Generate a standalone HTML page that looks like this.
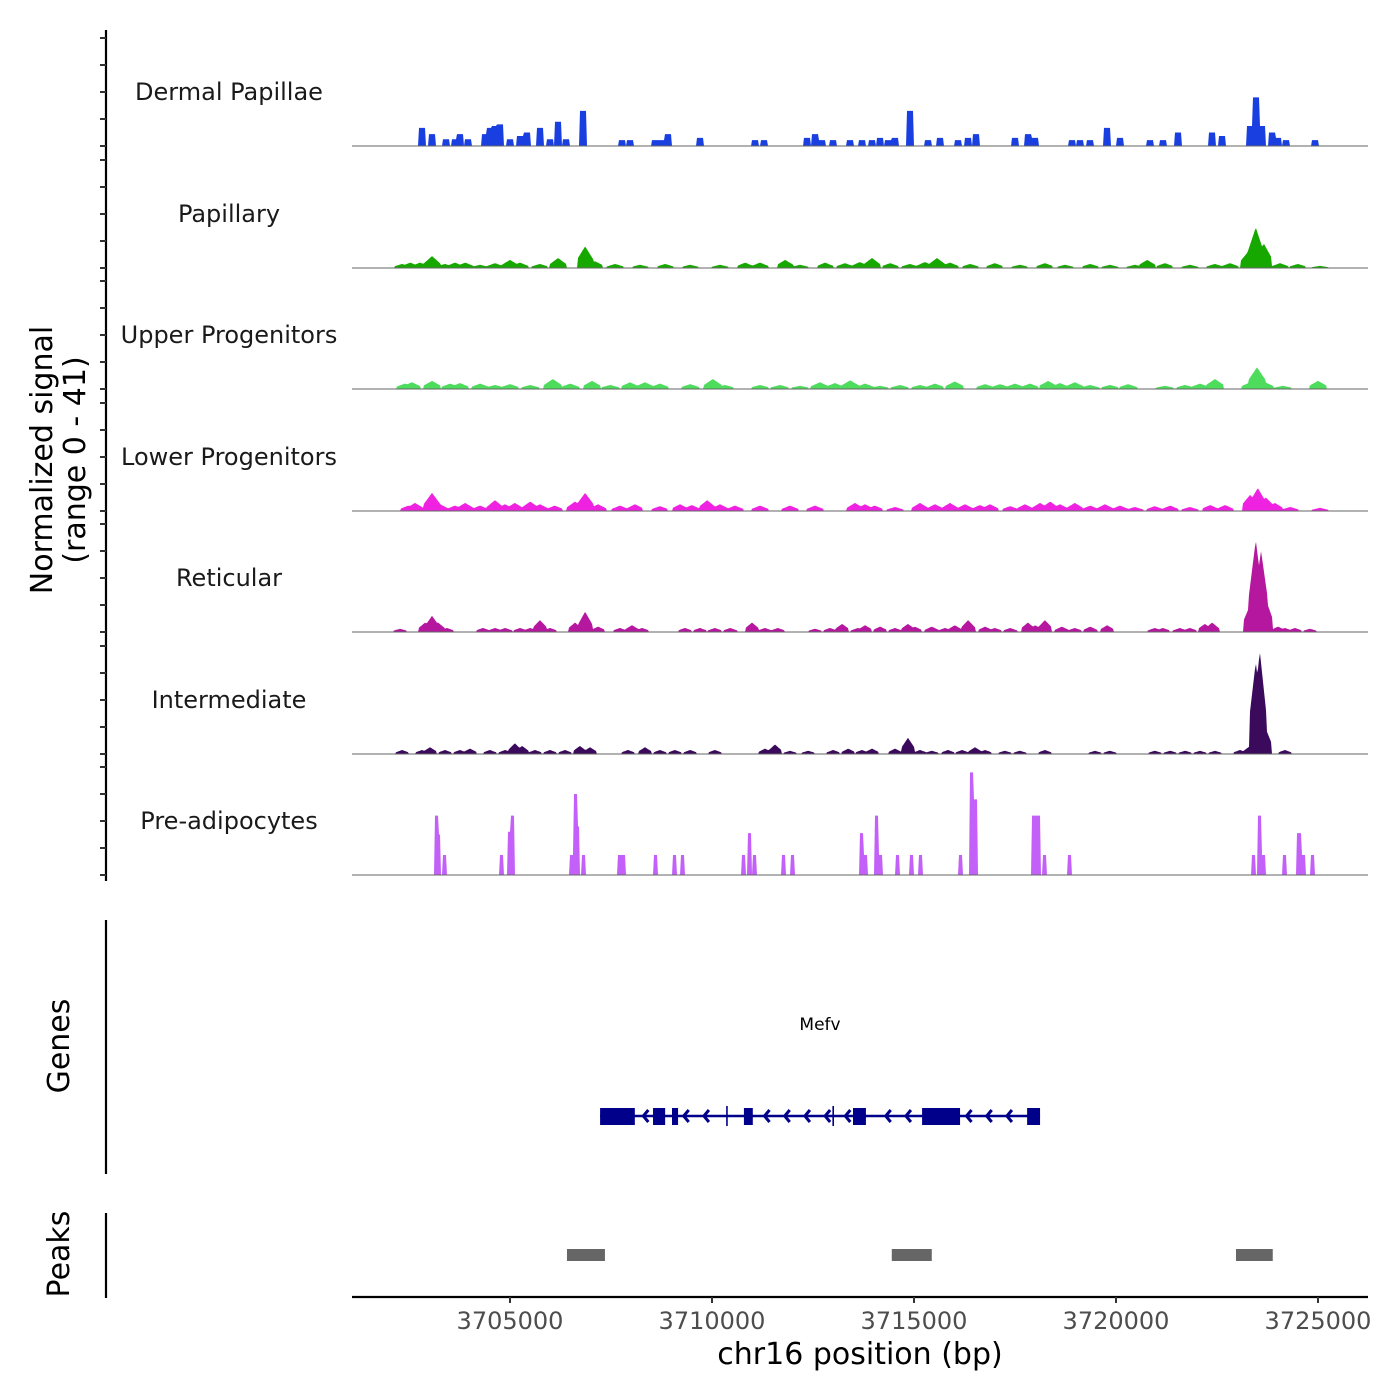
<!DOCTYPE html>
<html><head><meta charset="utf-8">
<style>
html,body{margin:0;padding:0;background:#fff;}
svg{display:block;font-family:"DejaVu Sans","Liberation Sans",sans-serif;}
</style></head>
<body>
<svg id="chart" width="1400" height="1400" viewBox="0 0 1400 1400" xmlns="http://www.w3.org/2000/svg">
<rect width="1400" height="1400" fill="#fff"/>
<g id="tracks"></g>
<g id="yaxis"></g>
<text transform="translate(52,460) rotate(-90)" text-anchor="middle" font-size="30" fill="#000">Normalized signal</text>
<text transform="translate(85,460) rotate(-90)" text-anchor="middle" font-size="30" fill="#000">(range 0 - 41)</text>
<g id="genes"></g>
<line x1="106" y1="920" x2="106" y2="1174" stroke="#000" stroke-width="2.2"/>
<text transform="translate(69,1046) rotate(-90)" text-anchor="middle" font-size="30" fill="#000">Genes</text>
<g id="peaks"></g>
<line x1="106" y1="1213" x2="106" y2="1298" stroke="#000" stroke-width="2.2"/>
<text transform="translate(69,1254) rotate(-90)" text-anchor="middle" font-size="30" fill="#000">Peaks</text>
<g id="xaxis"></g>
<text x="860" y="1364" text-anchor="middle" font-size="30" fill="#000">chr16 position (bp)</text>
</svg>
<script>
// ---- data (positions in kb on chr16, signal values 0-41) ----
const trackNames = ["Dermal Papillae","Papillary","Upper Progenitors","Lower Progenitors","Reticular","Intermediate","Pre-adipocytes"];
const trackColors = ["#1a3fe0","#17a800","#4ddc5c","#ee22e0","#b5179f","#3b0a5c","#c260f7"];
const xTicks = [3705000,3710000,3715000,3720000,3725000];

const dpPos = [3702.82,3703.07,3703.42,3703.64,3703.76,3703.96,3704.38,3704.50,3704.63,3704.75,3705.00,3705.25,3705.42,3705.74,3705.99,3706.19,3706.39,3706.81,3707.77,3707.97,3708.59,3708.74,3708.91,3709.70,3711.06,3711.29,3712.35,3712.55,3712.72,3713.00,3713.42,3713.71,3713.96,3714.16,3714.36,3714.53,3714.90,3715.35,3715.64,3716.09,3716.34,3716.53,3717.50,3717.82,3718.00,3718.91,3719.11,3719.36,3719.78,3720.10,3720.84,3721.16,3721.53,3722.38,3722.62,3723.32,3723.46,3723.61,3723.86,3724.01,3724.21,3724.92];
const dpVal = [6.7,4.4,2.5,2.5,4.4,2.5,4.4,6.7,7.4,8,2.5,3.7,5,6.7,2.5,9,2.5,13,2.2,2.2,2.2,2.2,4.4,3,2.2,2.2,3,4.4,2.2,2.2,2.2,2.2,2.2,3,2.2,3,13,2.2,3,2.2,3,4.4,3,4.4,3,2.2,2.2,2.2,6.7,3,2.2,2.2,5,5,3.7,7.4,18,7.4,5,3,2.2,2.2];

const papPos = [3702.33,3702.53,3702.77,3703.07,3703.39,3703.64,3703.89,3704.26,3704.63,3705.00,3705.25,3705.74,3706.19,3706.86,3707.10,3707.60,3708.22,3708.84,3709.46,3710.20,3710.82,3711.19,3711.81,3712.18,3712.80,3713.29,3713.66,3713.96,3714.41,3714.90,3715.27,3715.57,3715.89,3716.39,3717.00,3717.62,3718.24,3718.74,3719.36,3719.85,3720.47,3720.77,3721.21,3721.83,3722.45,3722.82,3723.27,3723.46,3723.66,3724.06,3724.50,3725.05];
const papVal = [1.5,2,2,4.4,1.5,2,2,1.2,1.8,3,2,1.5,3.7,8,2.5,1.5,1.2,1.5,1.2,1.2,2,2,3,1.2,2,1.8,2.2,3.7,1.8,1.5,2.2,3.7,2,1.5,1.8,1.2,1.8,1.2,1.5,1.2,1.2,3,1.8,1.2,1.5,1.8,6,15,9,1.8,1.5,0.8];

const upPos = [3702.40,3702.57,3703.07,3703.52,3703.76,3704.26,3704.63,3705.00,3705.50,3706.06,3706.49,3707.03,3707.48,3707.97,3708.34,3708.71,3709.46,3710.02,3710.32,3711.19,3711.68,3712.18,3712.67,3713.04,3713.42,3713.79,3714.16,3714.65,3715.15,3715.52,3716.01,3716.76,3717.13,3717.50,3717.87,3718.32,3718.61,3718.98,3719.36,3719.85,3720.30,3721.21,3721.71,3722.08,3722.45,3723.32,3723.49,3723.69,3724.13,3725.00];
const upVal = [2,2.5,3,2,2.2,2,1.5,1.8,1.5,3.7,2,3,1.5,2.5,2.5,2,1.8,3.7,1.5,1.5,1.5,1.2,2.5,2.2,3.2,2,1.2,1.5,1.5,2,2.8,1.8,1.8,2,2,3,2.2,2.5,1.5,1.5,1.8,1.2,1.5,2,3.7,2.5,8,2.5,1.2,3];

const loPos = [3702.48,3702.65,3703.07,3703.27,3703.64,3703.89,3704.26,3704.63,3704.88,3705.12,3705.50,3705.74,3706.11,3706.61,3706.86,3707.18,3707.72,3708.09,3708.71,3709.21,3709.50,3709.88,3710.20,3710.57,3711.19,3711.93,3712.55,3713.54,3713.79,3714.03,3714.53,3715.15,3715.52,3715.89,3716.26,3716.63,3716.88,3717.38,3717.75,3718.12,3718.37,3718.61,3718.98,3719.36,3719.73,3720.10,3720.47,3720.96,3721.34,3721.83,3722.33,3722.70,3723.32,3723.51,3723.71,3723.93,3724.31,3725.05];
const loVal = [2,3,6.7,2.5,2,3,2,4,2.5,3,3.5,2.5,2,3.5,6.7,2.5,2,2.5,1.8,2.5,2.2,4,2.5,2,2,2,2,3,2.5,2,1.5,3,2.5,3,2.5,2.2,2.5,1.8,2.5,3,3.5,2.5,3,2,2.5,2,1.5,1.8,2,1.5,2.2,2.2,6,8.5,5,3,1.5,1.2];

const retPos = [3702.28,3702.90,3703.07,3703.22,3703.44,3704.33,3704.63,3704.88,3705.25,3705.50,3705.74,3705.99,3706.61,3706.86,3707.18,3707.72,3708.02,3708.27,3709.33,3709.70,3710.07,3710.45,3710.99,3711.31,3711.63,3712.55,3712.92,3713.22,3713.61,3713.79,3714.16,3714.53,3714.85,3715.02,3715.44,3715.77,3716.01,3716.34,3716.76,3717.00,3717.38,3717.82,3718.00,3718.24,3718.66,3718.98,3719.36,3719.78,3720.96,3721.16,3721.58,3721.83,3722.20,3722.38,3723.32,3723.46,3723.59,3723.71,3724.01,3724.18,3724.43,3724.80];
const retVal = [1.2,3.5,6,3.5,1.5,1.5,1.5,1.5,1.5,1.5,4.4,1.5,3.5,7.5,2,1.5,2.5,1.5,1.5,1.5,1.5,1.5,3.5,1.5,1.5,1.2,1.5,3,1.5,2.5,2,1.5,3,2,2,1.5,2.5,4.4,2,1.5,1.5,3.5,2.5,4.4,2,1.5,2,2.5,1.5,1.5,1.5,1.5,3,3.5,10,34,30,12,2,1.5,1.5,1.2];

const intPos = [3702.33,3702.82,3703.02,3703.39,3703.76,3704.01,3704.50,3704.88,3705.12,3705.30,3705.62,3705.99,3706.36,3706.73,3706.98,3707.92,3708.34,3708.71,3709.08,3709.46,3710.07,3711.31,3711.56,3711.93,3712.38,3713.00,3713.37,3713.71,3713.96,3714.53,3714.85,3715.15,3715.44,3715.84,3716.19,3716.51,3716.76,3717.25,3717.62,3718.24,3719.48,3719.85,3720.96,3721.34,3721.71,3722.08,3722.45,3723.07,3723.32,3723.46,3723.56,3723.69,3724.18];
const intVal = [1.5,1.5,2.5,1.5,1.5,2,1.5,1.5,4,3,1.5,1.5,1.5,3,2.5,1.5,2.5,1.5,1.5,1.5,1.5,2,3.5,1.2,1.2,1.5,2,1.5,2,2,6,1.5,1.2,1.5,1.5,2.5,1.5,1.2,1.2,1.5,1.2,1.2,1.2,1.2,1.2,1.2,1.2,1.5,3,34,38,10,1.5];

const prePos = [3703.17,3703.22,3703.39,3704.78,3705.00,3705.05,3706.53,3706.63,3706.68,3706.83,3707.72,3707.82,3708.61,3709.08,3709.26,3710.77,3710.92,3711.06,3711.78,3712.00,3713.71,3713.81,3714.06,3714.16,3714.58,3714.95,3715.15,3716.16,3716.43,3716.51,3717.97,3718.09,3718.24,3718.86,3723.41,3723.56,3723.66,3724.16,3724.53,3724.63,3724.87];
const preVal = [22,15,7.4,7.4,16,22,7.4,30,18,7.4,7.4,7.4,7.4,7.4,7.4,7.4,15.5,7.4,7.4,7.4,15.5,7.4,22,7.4,7.4,7.4,7.4,7.4,38,28,22,22,7.4,7.4,7.4,22,7.4,7.4,15.5,7.4,7.4];

const trackPos = [dpPos,papPos,upPos,loPos,retPos,intPos,prePos];
const trackVal = [dpVal,papVal,upVal,loVal,retVal,intVal,preVal];

const exonStart = [3707.23,3708.54,3709.01,3710.35,3710.79,3712.98,3713.49,3715.20,3717.80];
const exonEnd   = [3708.09,3708.84,3709.16,3710.39,3711.01,3713.02,3713.81,3716.14,3718.12];
const geneStart = 3707.23, geneEnd = 3718.12;
const peakStart = [3706.41,3714.45,3722.97];
const peakEnd   = [3707.35,3715.44,3723.88];
</script>
<script>
const NS="http://www.w3.org/2000/svg";
const X0=352,X1=1368;
const xScale = kb => 510 + (kb-3705)*40.4;
const baselines=[146,268,389,511,632,754,875];
const yPerUnit=2.7;
const halfW=[0.09,0.2,0.22,0.2,0.17,0.16,0.05];
function mk(tag,attrs,parent){const e=document.createElementNS(NS,tag);for(const k in attrs)e.setAttribute(k,attrs[k]);parent.appendChild(e);return e;}

const tg=document.getElementById('tracks');
trackNames.forEach((name,i)=>{
  const base=baselines[i];
  const pos=trackPos[i], val=trackVal[i];
  const hw=halfW[i]*40.4;
  let d=`M${X0},${base}`;
  for(let x=X0;x<=X1;x+=1){
    let h=0;
    for(let j=0;j<pos.length;j++){
      const px=xScale(pos[j]);
      const dist=Math.abs(x-px);
      if(dist<hw){const f=i===0||i===6?1:1-dist/hw*0.6;h=Math.max(h,val[j]*f);}
    }
    d+=`L${x},${(base-h*yPerUnit).toFixed(1)}`;
  }
  d+=`L${X1},${base}Z`;
  const p=mk('path',{d:d,fill:trackColors[i]},tg);
  
  
  const l=mk('line',{x1:X0,x2:X1,y1:base,y2:base,stroke:'#666','stroke-width':1},tg);
  
  
  const t=mk('text',{x:229,y:base-46,'text-anchor':'middle','font-size':24,fill:'#1a1a1a'},tg);
  t.textContent=name;
  
  
});

const ya=document.getElementById('yaxis');
const al=mk('line',{x1:106,x2:106,y1:30,y2:881,stroke:'#000','stroke-width':2.2},ya);


baselines.forEach(b=>{
  [0,10,20,30,40].forEach(v=>{
    const y=b-v*yPerUnit;
    const tk=mk('line',{x1:100,x2:106,y1:y,y2:y,stroke:'#333','stroke-width':2},ya);
    
    
  });
});

const gg=document.getElementById('genes');
const gy=1116;
const gl=mk('line',{x1:xScale(geneStart),x2:xScale(geneEnd),y1:gy,y2:gy,stroke:'#00008b','stroke-width':2.5},gg);


for(let i=0;i<exonStart.length;i++){
  const x=xScale(exonStart[i]),w=Math.max(1.5,xScale(exonEnd[i])-x);
  const thin=w<3;
  const r=mk('rect',{x:x,y:thin?1106:1108,width:w,height:thin?20:17,fill:'#00008b'},gg);
  
  
}
for(let kb=3707.8;kb<3718;kb+=0.5){
  const inExon=exonStart.some((s,i)=>kb>s-0.12&&kb<exonEnd[i]+0.05);
  if(inExon)continue;
  const x=xScale(kb);
  const a=mk('path',{d:`M${x+5},${gy-6}L${x},${gy}L${x+5},${gy+6}`,fill:'none',stroke:'#00008b','stroke-width':3},gg);
  
  
}
const gn=mk('text',{x:820,y:1030,'text-anchor':'middle','font-size':17,fill:'#000'},gg);
gn.textContent='Mefv';



const pg=document.getElementById('peaks');
for(let i=0;i<peakStart.length;i++){
  const x=xScale(peakStart[i]);
  const r=mk('rect',{x:x,y:1249,width:xScale(peakEnd[i])-x,height:12,fill:'#666'},pg);
  
  
}

const xa=document.getElementById('xaxis');
const xl=mk('line',{x1:X0,x2:X1,y1:1297,y2:1297,stroke:'#000','stroke-width':2.2},xa);


xTicks.forEach(v=>{
  const x=xScale(v/1000);
  const tk=mk('line',{x1:x,x2:x,y1:1297,y2:1303,stroke:'#333','stroke-width':2},xa);
  
  
  const t=mk('text',{x:x,y:1329,'text-anchor':'middle','font-size':24,fill:'#4d4d4d'},xa);
  t.textContent=String(v);
  
  
});
</script>
</body></html>
